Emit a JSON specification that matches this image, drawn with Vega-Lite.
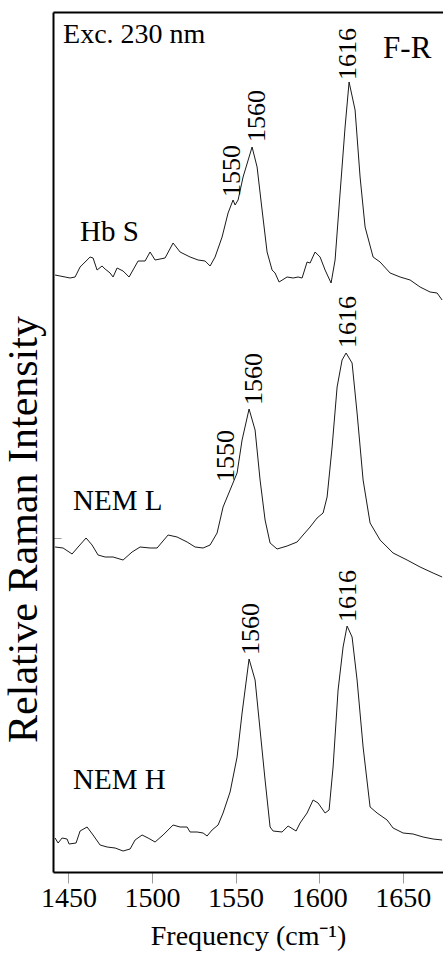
{
  "$schema": "https://vega.github.io/schema/vega-lite/v6.json",
  "width": 390,
  "height": 860,
  "autosize": "none",
  "padding": {"left": 53, "top": 12, "right": 0, "bottom": 97},
  "background": "white",
  "config": {"view": {"stroke": null}, "font": "Liberation Serif"},
  "datasets": {
    "spectra": [
      {"spectrum": "Hb S", "freq": 1442.05, "intensity": 597},
      {"spectrum": "Hb S", "freq": 1445.04, "intensity": 596},
      {"spectrum": "Hb S", "freq": 1448.03, "intensity": 595},
      {"spectrum": "Hb S", "freq": 1451.02, "intensity": 594},
      {"spectrum": "Hb S", "freq": 1454.01, "intensity": 595},
      {"spectrum": "Hb S", "freq": 1457.0, "intensity": 605},
      {"spectrum": "Hb S", "freq": 1462.98, "intensity": 615},
      {"spectrum": "Hb S", "freq": 1464.77, "intensity": 614},
      {"spectrum": "Hb S", "freq": 1467.16, "intensity": 602},
      {"spectrum": "Hb S", "freq": 1470.15, "intensity": 606},
      {"spectrum": "Hb S", "freq": 1471.95, "intensity": 603},
      {"spectrum": "Hb S", "freq": 1474.94, "intensity": 599},
      {"spectrum": "Hb S", "freq": 1476.73, "intensity": 595},
      {"spectrum": "Hb S", "freq": 1479.13, "intensity": 604},
      {"spectrum": "Hb S", "freq": 1482.72, "intensity": 601},
      {"spectrum": "Hb S", "freq": 1486.3, "intensity": 595},
      {"spectrum": "Hb S", "freq": 1491.69, "intensity": 611},
      {"spectrum": "Hb S", "freq": 1495.87, "intensity": 611},
      {"spectrum": "Hb S", "freq": 1498.86, "intensity": 620},
      {"spectrum": "Hb S", "freq": 1501.85, "intensity": 612},
      {"spectrum": "Hb S", "freq": 1507.83, "intensity": 614},
      {"spectrum": "Hb S", "freq": 1512.62, "intensity": 629},
      {"spectrum": "Hb S", "freq": 1516.81, "intensity": 620},
      {"spectrum": "Hb S", "freq": 1522.79, "intensity": 615},
      {"spectrum": "Hb S", "freq": 1527.57, "intensity": 612},
      {"spectrum": "Hb S", "freq": 1531.76, "intensity": 611},
      {"spectrum": "Hb S", "freq": 1534.75, "intensity": 606},
      {"spectrum": "Hb S", "freq": 1537.74, "intensity": 615},
      {"spectrum": "Hb S", "freq": 1541.93, "intensity": 635},
      {"spectrum": "Hb S", "freq": 1545.51, "intensity": 659},
      {"spectrum": "Hb S", "freq": 1548.5, "intensity": 672},
      {"spectrum": "Hb S", "freq": 1549.7, "intensity": 667},
      {"spectrum": "Hb S", "freq": 1551.5, "intensity": 672},
      {"spectrum": "Hb S", "freq": 1554.49, "intensity": 695},
      {"spectrum": "Hb S", "freq": 1559.87, "intensity": 725},
      {"spectrum": "Hb S", "freq": 1562.86, "intensity": 705},
      {"spectrum": "Hb S", "freq": 1565.85, "intensity": 662},
      {"spectrum": "Hb S", "freq": 1568.84, "intensity": 620},
      {"spectrum": "Hb S", "freq": 1571.83, "intensity": 602},
      {"spectrum": "Hb S", "freq": 1573.62, "intensity": 599},
      {"spectrum": "Hb S", "freq": 1576.02, "intensity": 590},
      {"spectrum": "Hb S", "freq": 1580.8, "intensity": 595},
      {"spectrum": "Hb S", "freq": 1584.39, "intensity": 594},
      {"spectrum": "Hb S", "freq": 1587.38, "intensity": 595},
      {"spectrum": "Hb S", "freq": 1589.77, "intensity": 594},
      {"spectrum": "Hb S", "freq": 1592.76, "intensity": 610},
      {"spectrum": "Hb S", "freq": 1594.56, "intensity": 609},
      {"spectrum": "Hb S", "freq": 1597.55, "intensity": 620},
      {"spectrum": "Hb S", "freq": 1600.54, "intensity": 615},
      {"spectrum": "Hb S", "freq": 1603.53, "intensity": 602},
      {"spectrum": "Hb S", "freq": 1607.12, "intensity": 589},
      {"spectrum": "Hb S", "freq": 1609.51, "intensity": 612},
      {"spectrum": "Hb S", "freq": 1612.5, "intensity": 679},
      {"spectrum": "Hb S", "freq": 1615.49, "intensity": 745},
      {"spectrum": "Hb S", "freq": 1617.88, "intensity": 790},
      {"spectrum": "Hb S", "freq": 1621.47, "intensity": 762},
      {"spectrum": "Hb S", "freq": 1624.46, "intensity": 695},
      {"spectrum": "Hb S", "freq": 1627.45, "intensity": 645},
      {"spectrum": "Hb S", "freq": 1632.24, "intensity": 615},
      {"spectrum": "Hb S", "freq": 1636.42, "intensity": 610},
      {"spectrum": "Hb S", "freq": 1642.41, "intensity": 599},
      {"spectrum": "Hb S", "freq": 1648.39, "intensity": 595},
      {"spectrum": "Hb S", "freq": 1654.37, "intensity": 592},
      {"spectrum": "Hb S", "freq": 1660.35, "intensity": 585},
      {"spectrum": "Hb S", "freq": 1666.33, "intensity": 580},
      {"spectrum": "Hb S", "freq": 1670.52, "intensity": 579},
      {"spectrum": "Hb S", "freq": 1673.51, "intensity": 572},

      {"spectrum": "NEM L", "freq": 1442.05, "intensity": 325},
      {"spectrum": "NEM L", "freq": 1446.83, "intensity": 324},
      {"spectrum": "NEM L", "freq": 1452.21, "intensity": 318},
      {"spectrum": "NEM L", "freq": 1455.8, "intensity": 325},
      {"spectrum": "NEM L", "freq": 1460.58, "intensity": 334},
      {"spectrum": "NEM L", "freq": 1464.17, "intensity": 327},
      {"spectrum": "NEM L", "freq": 1467.76, "intensity": 317},
      {"spectrum": "NEM L", "freq": 1471.95, "intensity": 315},
      {"spectrum": "NEM L", "freq": 1476.73, "intensity": 315},
      {"spectrum": "NEM L", "freq": 1482.72, "intensity": 312},
      {"spectrum": "NEM L", "freq": 1488.1, "intensity": 320},
      {"spectrum": "NEM L", "freq": 1492.88, "intensity": 325},
      {"spectrum": "NEM L", "freq": 1498.86, "intensity": 324},
      {"spectrum": "NEM L", "freq": 1503.05, "intensity": 324},
      {"spectrum": "NEM L", "freq": 1509.63, "intensity": 337},
      {"spectrum": "NEM L", "freq": 1515.01, "intensity": 335},
      {"spectrum": "NEM L", "freq": 1520.99, "intensity": 330},
      {"spectrum": "NEM L", "freq": 1525.78, "intensity": 325},
      {"spectrum": "NEM L", "freq": 1530.56, "intensity": 324},
      {"spectrum": "NEM L", "freq": 1534.75, "intensity": 327},
      {"spectrum": "NEM L", "freq": 1538.94, "intensity": 339},
      {"spectrum": "NEM L", "freq": 1542.52, "intensity": 365},
      {"spectrum": "NEM L", "freq": 1546.71, "intensity": 382},
      {"spectrum": "NEM L", "freq": 1550.9, "intensity": 399},
      {"spectrum": "NEM L", "freq": 1553.89, "intensity": 432},
      {"spectrum": "NEM L", "freq": 1558.07, "intensity": 463},
      {"spectrum": "NEM L", "freq": 1561.66, "intensity": 442},
      {"spectrum": "NEM L", "freq": 1564.65, "intensity": 392},
      {"spectrum": "NEM L", "freq": 1567.64, "intensity": 352},
      {"spectrum": "NEM L", "freq": 1570.63, "intensity": 329},
      {"spectrum": "NEM L", "freq": 1574.82, "intensity": 323},
      {"spectrum": "NEM L", "freq": 1580.8, "intensity": 326},
      {"spectrum": "NEM L", "freq": 1586.78, "intensity": 330},
      {"spectrum": "NEM L", "freq": 1590.37, "intensity": 337},
      {"spectrum": "NEM L", "freq": 1594.56, "intensity": 345},
      {"spectrum": "NEM L", "freq": 1598.74, "intensity": 354},
      {"spectrum": "NEM L", "freq": 1602.33, "intensity": 359},
      {"spectrum": "NEM L", "freq": 1604.73, "intensity": 375},
      {"spectrum": "NEM L", "freq": 1607.72, "intensity": 425},
      {"spectrum": "NEM L", "freq": 1610.71, "intensity": 485},
      {"spectrum": "NEM L", "freq": 1613.7, "intensity": 512},
      {"spectrum": "NEM L", "freq": 1616.09, "intensity": 519},
      {"spectrum": "NEM L", "freq": 1619.68, "intensity": 509},
      {"spectrum": "NEM L", "freq": 1622.67, "intensity": 459},
      {"spectrum": "NEM L", "freq": 1626.26, "intensity": 392},
      {"spectrum": "NEM L", "freq": 1630.44, "intensity": 349},
      {"spectrum": "NEM L", "freq": 1636.42, "intensity": 332},
      {"spectrum": "NEM L", "freq": 1644.2, "intensity": 319},
      {"spectrum": "NEM L", "freq": 1652.57, "intensity": 312},
      {"spectrum": "NEM L", "freq": 1660.35, "intensity": 305},
      {"spectrum": "NEM L", "freq": 1668.12, "intensity": 299},
      {"spectrum": "NEM L", "freq": 1673.51, "intensity": 295},

      {"spectrum": "NEM H", "freq": 1442.05, "intensity": 34},
      {"spectrum": "NEM H", "freq": 1443.84, "intensity": 29},
      {"spectrum": "NEM H", "freq": 1446.23, "intensity": 34},
      {"spectrum": "NEM H", "freq": 1449.22, "intensity": 33},
      {"spectrum": "NEM H", "freq": 1450.42, "intensity": 28},
      {"spectrum": "NEM H", "freq": 1454.6, "intensity": 29},
      {"spectrum": "NEM H", "freq": 1457.0, "intensity": 41},
      {"spectrum": "NEM H", "freq": 1461.18, "intensity": 45},
      {"spectrum": "NEM H", "freq": 1464.77, "intensity": 37},
      {"spectrum": "NEM H", "freq": 1468.96, "intensity": 27},
      {"spectrum": "NEM H", "freq": 1473.15, "intensity": 25},
      {"spectrum": "NEM H", "freq": 1477.93, "intensity": 24},
      {"spectrum": "NEM H", "freq": 1482.72, "intensity": 21},
      {"spectrum": "NEM H", "freq": 1486.9, "intensity": 23},
      {"spectrum": "NEM H", "freq": 1489.89, "intensity": 32},
      {"spectrum": "NEM H", "freq": 1494.08, "intensity": 37},
      {"spectrum": "NEM H", "freq": 1497.67, "intensity": 34},
      {"spectrum": "NEM H", "freq": 1501.85, "intensity": 30},
      {"spectrum": "NEM H", "freq": 1506.64, "intensity": 37},
      {"spectrum": "NEM H", "freq": 1512.62, "intensity": 47},
      {"spectrum": "NEM H", "freq": 1516.81, "intensity": 45},
      {"spectrum": "NEM H", "freq": 1520.99, "intensity": 45},
      {"spectrum": "NEM H", "freq": 1522.79, "intensity": 40},
      {"spectrum": "NEM H", "freq": 1526.97, "intensity": 40},
      {"spectrum": "NEM H", "freq": 1530.56, "intensity": 39},
      {"spectrum": "NEM H", "freq": 1532.95, "intensity": 36},
      {"spectrum": "NEM H", "freq": 1535.95, "intensity": 42},
      {"spectrum": "NEM H", "freq": 1539.53, "intensity": 47},
      {"spectrum": "NEM H", "freq": 1542.52, "intensity": 59},
      {"spectrum": "NEM H", "freq": 1546.71, "intensity": 80},
      {"spectrum": "NEM H", "freq": 1550.9, "intensity": 115},
      {"spectrum": "NEM H", "freq": 1553.89, "intensity": 159},
      {"spectrum": "NEM H", "freq": 1558.07, "intensity": 213},
      {"spectrum": "NEM H", "freq": 1561.66, "intensity": 192},
      {"spectrum": "NEM H", "freq": 1564.65, "intensity": 142},
      {"spectrum": "NEM H", "freq": 1567.64, "intensity": 92},
      {"spectrum": "NEM H", "freq": 1570.63, "intensity": 45},
      {"spectrum": "NEM H", "freq": 1572.43, "intensity": 41},
      {"spectrum": "NEM H", "freq": 1577.81, "intensity": 40},
      {"spectrum": "NEM H", "freq": 1581.4, "intensity": 46},
      {"spectrum": "NEM H", "freq": 1586.18, "intensity": 41},
      {"spectrum": "NEM H", "freq": 1588.58, "intensity": 49},
      {"spectrum": "NEM H", "freq": 1592.76, "intensity": 59},
      {"spectrum": "NEM H", "freq": 1596.35, "intensity": 72},
      {"spectrum": "NEM H", "freq": 1599.34, "intensity": 69},
      {"spectrum": "NEM H", "freq": 1603.53, "intensity": 59},
      {"spectrum": "NEM H", "freq": 1605.92, "intensity": 62},
      {"spectrum": "NEM H", "freq": 1608.31, "intensity": 105},
      {"spectrum": "NEM H", "freq": 1611.3, "intensity": 182},
      {"spectrum": "NEM H", "freq": 1614.29, "intensity": 225},
      {"spectrum": "NEM H", "freq": 1616.69, "intensity": 246},
      {"spectrum": "NEM H", "freq": 1619.68, "intensity": 235},
      {"spectrum": "NEM H", "freq": 1622.67, "intensity": 192},
      {"spectrum": "NEM H", "freq": 1626.26, "intensity": 125},
      {"spectrum": "NEM H", "freq": 1630.44, "intensity": 65},
      {"spectrum": "NEM H", "freq": 1634.63, "intensity": 59},
      {"spectrum": "NEM H", "freq": 1640.61, "intensity": 52},
      {"spectrum": "NEM H", "freq": 1644.2, "intensity": 44},
      {"spectrum": "NEM H", "freq": 1650.18, "intensity": 39},
      {"spectrum": "NEM H", "freq": 1656.16, "intensity": 38},
      {"spectrum": "NEM H", "freq": 1662.14, "intensity": 35},
      {"spectrum": "NEM H", "freq": 1668.12, "intensity": 33},
      {"spectrum": "NEM H", "freq": 1673.51, "intensity": 32}
    ],
    "peaks": [
      {"label": "1550", "freq": 1547.91, "intensity": 675},
      {"label": "1560", "freq": 1562.86, "intensity": 730},
      {"label": "1616", "freq": 1617.29, "intensity": 792},
      {"label": "1550", "freq": 1544.32, "intensity": 390},
      {"label": "1560", "freq": 1561.07, "intensity": 467},
      {"label": "1616", "freq": 1617.29, "intensity": 524},
      {"label": "1560", "freq": 1559.27, "intensity": 217},
      {"label": "1616", "freq": 1617.29, "intensity": 250}
    ],
    "names": [
      {"label": "Hb S", "freq": 1457.0, "intensity": 631},
      {"label": "NEM L", "freq": 1452.81, "intensity": 362},
      {"label": "NEM H", "freq": 1452.81, "intensity": 83}
    ],
    "excitation": [
      {"label": "Exc. 230 nm", "freq": 1446.83, "intensity": 829}
    ],
    "region": [
      {"label": "F-R", "freq": 1638.22, "intensity": 814}
    ]
  },
  "layer": [
    {
      "data": {"name": "spectra"},
      "mark": {"type": "line", "color": "#1a1a1a", "strokeWidth": 1, "clip": true},
      "encoding": {
        "x": {
          "field": "freq", "type": "quantitative",
          "scale": {"domain": [1440.8, 1674.05], "nice": false, "zero": false},
          "axis": {
            "orient": "bottom",
            "values": [1450, 1500, 1550, 1600, 1650],
            "format": "d",
            "grid": false,
            "domainColor": "black", "domainWidth": 2,
            "tickColor": "#9a9a9a", "tickWidth": 1, "tickSize": 11,
            "labelFont": "Liberation Serif", "labelFontSize": 28, "labelColor": "black",
            "labelPadding": 1, "labelFlush": false, "labelOverlap": false,
            "title": "Frequency (cm⁻¹)",
            "titleFont": "Liberation Serif", "titleFontSize": 28, "titleFontWeight": "normal",
            "titleColor": "black", "titleBaseline": "alphabetic", "titleY": 72
          }
        },
        "y": {
          "field": "intensity", "type": "quantitative",
          "scale": {"domain": [0, 860], "nice": false, "zero": false},
          "axis": {
            "orient": "left",
            "values": [334],
            "grid": false, "labels": false,
            "domainColor": "black", "domainWidth": 2,
            "tickColor": "#9a9a9a", "tickWidth": 1, "tickSize": -8,
            "title": "Relative Raman Intensity",
            "titleFont": "Liberation Serif", "titleFontSize": 42, "titleFontWeight": "normal",
            "titleColor": "black", "titleBaseline": "alphabetic", "titleX": -17, "titleY": 517
          }
        },
        "detail": {"field": "spectrum"}
      }
    },
    {
      "data": {"name": "peaks"},
      "mark": {"type": "text", "angle": 270, "align": "left", "baseline": "middle", "fontSize": 26, "font": "Liberation Serif", "color": "black"},
      "encoding": {
        "x": {
          "field": "freq", "type": "quantitative",
          "axis": {"orient": "top", "domain": true, "domainColor": "black", "domainWidth": 2, "ticks": false, "labels": false, "grid": false, "title": null}
        },
        "y": {"field": "intensity", "type": "quantitative", "axis": null},
        "text": {"field": "label"}
      }
    },
    {
      "data": {"name": "names"},
      "mark": {"type": "text", "align": "left", "baseline": "alphabetic", "fontSize": 29, "font": "Liberation Serif", "color": "black"},
      "encoding": {
        "x": {"field": "freq", "type": "quantitative", "axis": null},
        "y": {"field": "intensity", "type": "quantitative", "axis": null},
        "text": {"field": "label"}
      }
    },
    {
      "data": {"name": "excitation"},
      "mark": {"type": "text", "align": "left", "baseline": "alphabetic", "fontSize": 28, "font": "Liberation Serif", "color": "black"},
      "encoding": {
        "x": {"field": "freq", "type": "quantitative", "axis": null},
        "y": {"field": "intensity", "type": "quantitative", "axis": null},
        "text": {"field": "label"}
      }
    },
    {
      "data": {"name": "region"},
      "mark": {"type": "text", "align": "left", "baseline": "alphabetic", "fontSize": 31, "font": "Liberation Serif", "color": "black"},
      "encoding": {
        "x": {"field": "freq", "type": "quantitative", "axis": null},
        "y": {"field": "intensity", "type": "quantitative", "axis": null},
        "text": {"field": "label"}
      }
    }
  ],
  "resolve": {"axis": {"x": "independent", "y": "independent"}}
}
